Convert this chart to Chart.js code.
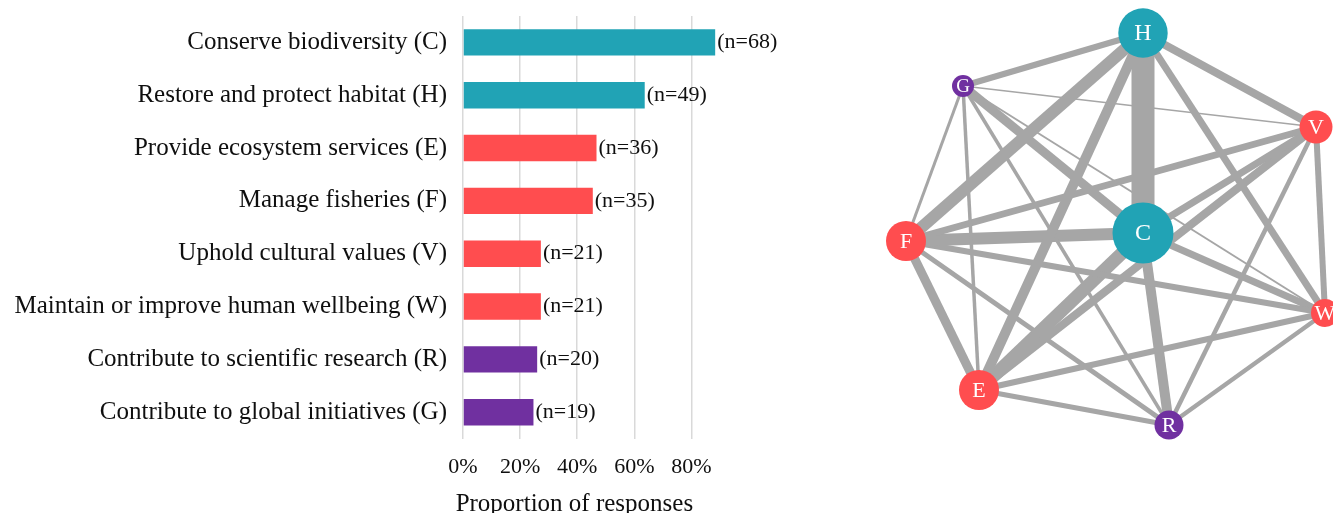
<!DOCTYPE html>
<html><head><meta charset="utf-8">
<script src="https://cdn.jsdelivr.net/npm/chart.js@4.4.1/dist/chart.umd.min.js"></script>
<style>
html,body{margin:0;padding:0;background:#fff;overflow:hidden;width:1333px;height:513px}
#barWrap{position:absolute;left:0;top:0;width:800px;height:513px}
#netWrap{position:absolute;left:860px;top:0;width:473px;height:513px}
</style></head><body>
<div id="barWrap"><canvas id="bar"></canvas></div>
<div id="netWrap"><canvas id="net"></canvas></div>
<script>
// ---- bar chart data ----
const categories = [
  'Conserve biodiversity (C)',
  'Restore and protect habitat (H)',
  'Provide ecosystem services (E)',
  'Manage fisheries (F)',
  'Uphold cultural values (V)',
  'Maintain or improve human wellbeing (W)',
  'Contribute to scientific research (R)',
  'Contribute to global initiatives (G)'
];
const counts = [68, 49, 36, 35, 21, 21, 20, 19];
const totalResponses = 77;
const groups = ['eco', 'eco', 'soc', 'soc', 'soc', 'soc', 'sci', 'sci'];
const xTickValues = [0, 0.2, 0.4, 0.6, 0.8];
const axisTitle = 'Proportion of responses';

// ---- network data (layout coordinates) ----
const nodeIds = ['H', 'G', 'V', 'F', 'C', 'E', 'R', 'W'];
const nodeX = [0.00, -0.90, 0.865, -1.185, 0.00, -0.82, 0.13, 0.91];
const nodeY = [1.00, 0.735, 0.53, -0.04, 0.00, -0.785, -0.96, -0.40];
const nodeGroup = ['eco', 'sci', 'soc', 'soc', 'eco', 'soc', 'sci', 'soc'];
const edgeFrom = ['H','H','H','H','H','H','G','G','G','G','G','G','V','V','V','V','V','F','F','F','F','C','C','C','E','E','R'];
const edgeTo   = ['C','G','V','F','E','W','V','F','E','C','R','W','F','C','E','R','W','C','E','W','R','E','R','W','R','W','W'];
const edgeWeight = [23,6,8,12,10,7,1.5,3,3.5,9,3.5,2,7,7,8,4.5,6,12,9,6,5,13,10,7,5,6,4.5];

// ---- styles ----
const groupColor = { eco: '#21a3b5', soc: '#ff4d4f', sci: '#7030a0' };
const nodeRadius = { H: 24.7, G: 11, V: 16.5, F: 20, C: 30.5, E: 20, R: 14.5, W: 14 };
const serif = 'Liberation Serif';
const textColor = '#0f0f0f';
const edgeColor = '#a6a6a6';

const proportions = counts.map(n => n / totalResponses);

const barLabels = {
  id: 'barLabels',
  afterDatasetsDraw(chart) {
    const ctx = chart.ctx;
    const meta = chart.getDatasetMeta(0);
    ctx.save();
    ctx.font = '22px "' + serif + '"';
    ctx.fillStyle = textColor;
    ctx.textAlign = 'left';
    ctx.textBaseline = 'middle';
    meta.data.forEach((el, i) => {
      ctx.fillText('(n=' + counts[i] + ')', el.x + 2, el.y);
    });
    const xs = chart.scales.x;
    ctx.font = '25px "' + serif + '"';
    ctx.textAlign = 'center';
    ctx.textBaseline = 'alphabetic';
    ctx.fillText(axisTitle, xs.getPixelForValue(0.39), 511);
    ctx.restore();
  }
};

new Chart(document.getElementById('bar'), {
  type: 'bar',
  data: {
    labels: categories,
    datasets: [{
      data: proportions,
      backgroundColor: groups.map(g => groupColor[g]),
      borderWidth: 0,
      barPercentage: 0.5,
      categoryPercentage: 1
    }]
  },
  options: {
    indexAxis: 'y',
    responsive: true,
    maintainAspectRatio: false,
    animation: false,
    layout: { padding: { top: 16, right: 80, bottom: 18, left: 0 } },
    plugins: { legend: { display: false }, tooltip: { enabled: false } },
    scales: {
      x: {
        min: 0, max: 0.9,
        afterBuildTicks(s) { s.ticks = xTickValues.map(v => ({ value: v })); },
        grid: { color: '#d9d9d9', lineWidth: 1.5, drawTicks: false },
        border: { display: false },
        ticks: {
          padding: 15, color: textColor,
          font: { family: serif, size: 22 },
          callback: v => Math.round(v * 100) + '%'
        }
      },
      y: {
        grid: { display: false, drawTicks: true, tickLength: 16 },
        border: { display: false },
        ticks: { padding: 0, color: textColor, font: { family: serif, size: 25 } },
        afterFit(s) { s.width = 463; }
      }
    }
  },
  plugins: [barLabels]
});

// ---- network ----
const idx = id => nodeIds.indexOf(id);
const edgeDatasets = edgeFrom.map((f, i) => ({
  type: 'line',
  data: [
    { x: nodeX[idx(f)], y: nodeY[idx(f)] },
    { x: nodeX[idx(edgeTo[i])], y: nodeY[idx(edgeTo[i])] }
  ],
  showLine: true,
  borderColor: edgeColor,
  borderWidth: edgeWeight[i],
  borderCapStyle: 'butt',
  pointRadius: 0,
  fill: false,
  order: 1,
  clip: false
}));

const nodeLabels = {
  id: 'nodeLabels',
  afterDatasetsDraw(chart) {
    const ctx = chart.ctx;
    const meta = chart.getDatasetMeta(0);
    ctx.save();
    ctx.fillStyle = '#ffffff';
    ctx.textAlign = 'center';
    ctx.textBaseline = 'middle';
    meta.data.forEach((el, i) => {
      const r = nodeRadius[nodeIds[i]];
      const size = r > 22 ? 24 : (r < 12 ? 19 : 22);
      ctx.font = size + 'px "' + serif + '"';
      ctx.fillText(nodeIds[i], el.x, el.y + 1);
    });
    ctx.restore();
  }
};

new Chart(document.getElementById('net'), {
  type: 'scatter',
  data: {
    datasets: [{
      data: nodeIds.map((id, i) => ({ x: nodeX[i], y: nodeY[i] })),
      pointRadius: nodeIds.map(id => nodeRadius[id]),
      pointHoverRadius: nodeIds.map(id => nodeRadius[id]),
      backgroundColor: nodeGroup.map(g => groupColor[g]),
      borderWidth: 0,
      order: 0,
      clip: false
    }, ...edgeDatasets]
  },
  options: {
    responsive: true,
    maintainAspectRatio: false,
    animation: false,
    layout: { padding: 0, autoPadding: false },
    plugins: { legend: { display: false }, tooltip: { enabled: false } },
    scales: {
      x: { type: 'linear', min: -1.415, max: 0.95, display: false },
      y: { type: 'linear', min: -1.40, max: 1.165, display: false }
    }
  },
  plugins: [nodeLabels]
});
</script>
</body></html>
